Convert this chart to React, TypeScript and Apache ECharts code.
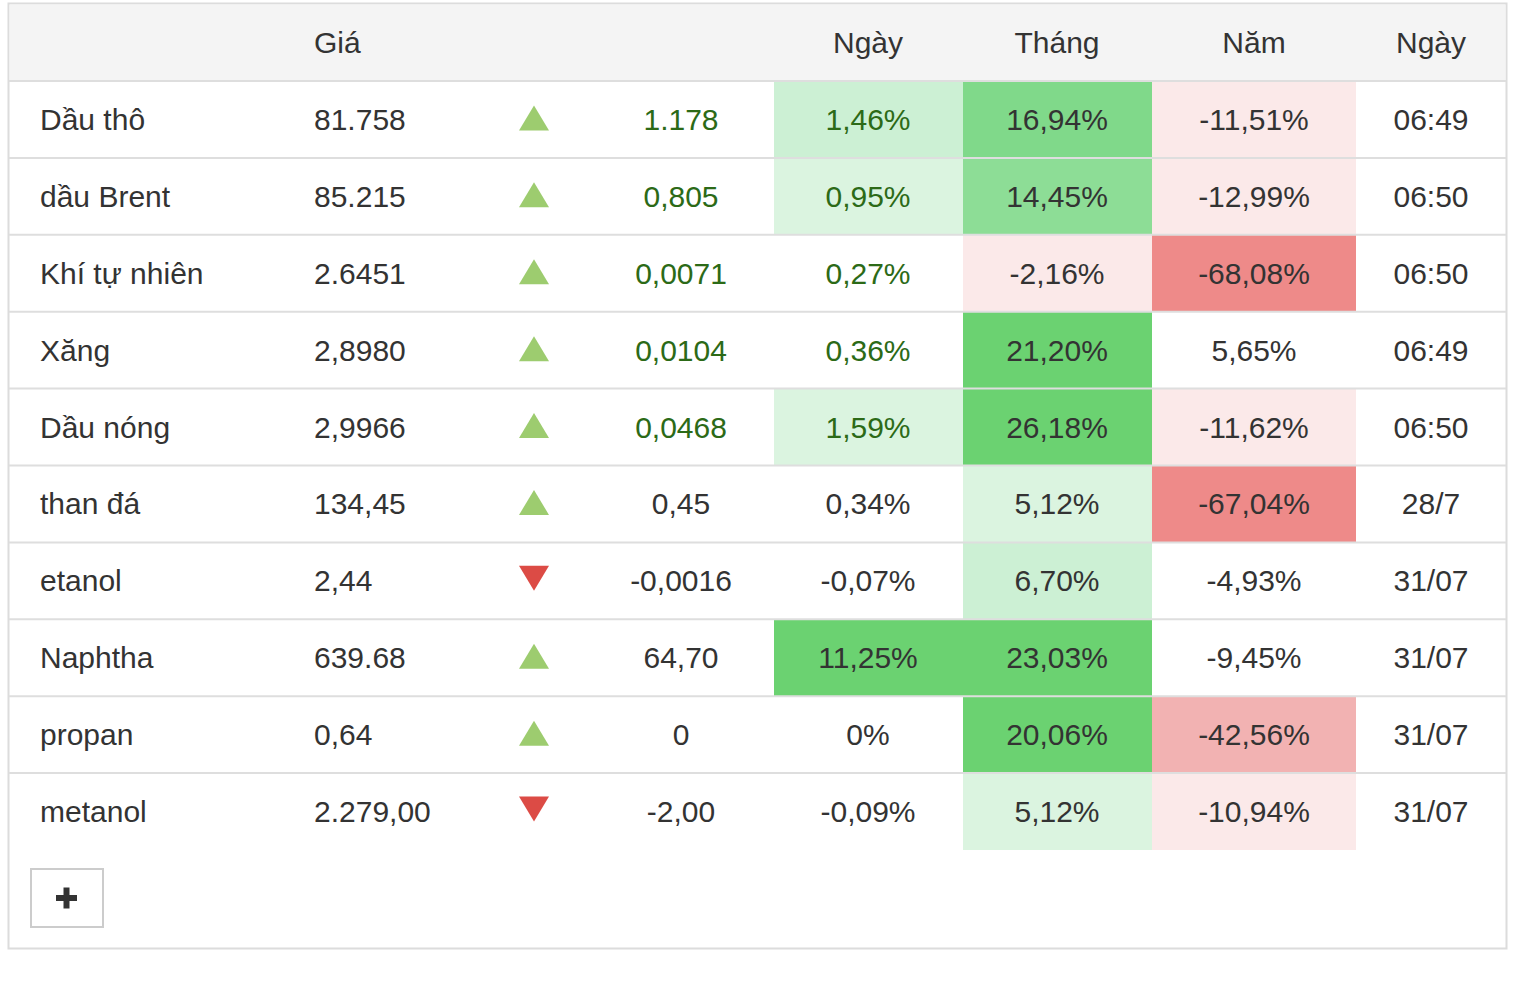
import React, { useEffect, useRef } from "react";
import * as echarts from "echarts";

// ---------- data ----------
const names = ["Dầu thô", "dầu Brent", "Khí tự nhiên", "Xăng", "Dầu nóng", "than đá", "etanol", "Naphtha", "propan", "metanol"];
const prices = ["81.758", "85.215", "2.6451", "2,8980", "2,9966", "134,45", "2,44", "639.68", "0,64", "2.279,00"];
const changes = ["1.178", "0,805", "0,0071", "0,0104", "0,0468", "0,45", "-0,0016", "64,70", "0", "-2,00"];
const dayPct = ["1,46%", "0,95%", "0,27%", "0,36%", "1,59%", "0,34%", "-0,07%", "11,25%", "0%", "-0,09%"];
const monthPct = ["16,94%", "14,45%", "-2,16%", "21,20%", "26,18%", "5,12%", "6,70%", "23,03%", "20,06%", "5,12%"];
const yearPct = ["-11,51%", "-12,99%", "-68,08%", "5,65%", "-11,62%", "-67,04%", "-4,93%", "-9,45%", "-42,56%", "-10,94%"];
const times = ["06:49", "06:50", "06:50", "06:49", "06:50", "28/7", "31/07", "31/07", "31/07", "31/07"];
const liveQuote = [true, true, true, true, true, false, false, false, false, false];
// heat levels of the percentage cells (positive = green, negative = red)
const dayLevel = [2, 1, 0, 0, 1, 0, 0, 5, 0, 0];
const monthLevel = [4, 3, -1, 5, 5, 1, 2, 5, 5, 1];
const yearLevel = [-1, -1, -3, 0, -1, -3, 0, 0, -2, -1];
const headers = ["", "Giá", "", "", "Ngày", "Tháng", "Năm", "Ngày"];

// ---------- layout & style ----------
const FONT = '"Liberation Sans", Arial, Helvetica, sans-serif';
const FS = 30;
const TEXT = "#333333";
const GREEN_TEXT = "#2c6a17";
const UP = "#9dcc6f";
const DOWN = "#dc4b45";
const LINE = "#dedede";
const HEAT: Record<string, string> = {
  "1": "#dbf4e0",
  "2": "#ccf0d4",
  "3": "#8ddd96",
  "4": "#80d98a",
  "5": "#6bd271",
  "-1": "#fbe9e9",
  "-2": "#f2b2b2",
  "-3": "#ee8a89",
};
const COLS = [
  { x0: 9, x1: 290, align: "left", tx: 40 },
  { x0: 290, x1: 500, align: "left", tx: 314 },
  { x0: 500, x1: 580, align: "center", tx: 534 },
  { x0: 580, x1: 774, align: "center", tx: 681 },
  { x0: 774, x1: 963, align: "center", tx: 868 },
  { x0: 963, x1: 1152, align: "center", tx: 1057 },
  { x0: 1152, x1: 1356, align: "center", tx: 1254 },
  { x0: 1356, x1: 1506, align: "center", tx: 1431 },
];
const X_MIN = 8;
const X_MAX = 1507;
const BODY_TOP = 81;
const BODY_BOTTOM = 850;

function cellText(c: number, r: number): string {
  switch (c) {
    case 0: return names[r];
    case 1: return prices[r];
    case 3: return changes[r];
    case 4: return dayPct[r];
    case 5: return monthPct[r];
    case 6: return yearPct[r];
    case 7: return times[r];
    default: return "";
  }
}
function cellLevel(c: number, r: number): number {
  if (c === 4) return dayLevel[r];
  if (c === 5) return monthLevel[r];
  if (c === 6) return yearLevel[r];
  return 0;
}

export default function App() {
  const ref = useRef<HTMLDivElement>(null);
  useEffect(() => {
    if (!ref.current) return;
    const chart = echarts.init(ref.current, undefined, { renderer: "svg" });

    const cells: number[][] = [];
    for (let r = 0; r < names.length; r++) for (let c = 0; c < COLS.length; c++) cells.push([c, r]);
    const rows = names.map((_, r) => [0, r]);

    const option: any = {
      animation: false,
      backgroundColor: "#ffffff",
      grid: { left: X_MIN, right: 1536 - X_MAX, top: BODY_TOP, bottom: 984 - BODY_BOTTOM },
      xAxis: { type: "value", min: X_MIN, max: X_MAX, show: false },
      yAxis: { type: "category", data: names, inverse: true, show: false },
      graphic: [
        {
          type: "rect",
          shape: { x: 8.5, y: 3.5, width: 1498, height: 945 },
          style: { fill: "#ffffff", stroke: "#dcdcdc", lineWidth: 2 },
          z: -10,
        },
        {
          type: "rect",
          shape: { x: 9.5, y: 4.5, width: 1496, height: 76 },
          style: { fill: "#f4f4f4" },
          z: -5,
        },
        ...headers
          .map((h, c) =>
            h
              ? {
                  type: "text",
                  x: COLS[c].tx,
                  y: 42,
                  style: {
                    text: h,
                    fill: TEXT,
                    fontSize: FS,
                    fontFamily: FONT,
                    align: COLS[c].align,
                    verticalAlign: "middle",
                  },
                }
              : null
          )
          .filter(Boolean),
        {
          type: "rect",
          shape: { x: 31, y: 869, width: 72, height: 58 },
          style: { fill: "#ffffff", stroke: "#cccccc", lineWidth: 2 },
        },
        { type: "rect", shape: { x: 56, y: 895, width: 21, height: 6 }, style: { fill: "#333333" } },
        { type: "rect", shape: { x: 63.5, y: 887.5, width: 6, height: 21 }, style: { fill: "#333333" } },
      ],
      series: [
        {
          type: "custom",
          data: cells,
          z: 2,
          renderItem: (params: any, api: any) => {
            const c = api.value(0);
            const r = api.value(1);
            const col = COLS[c];
            const center = api.coord([col.tx, r]);
            const h = api.size([0, 1])[1];
            const x0 = api.coord([col.x0, r])[0];
            const x1 = api.coord([col.x1, r])[0];
            const yC = center[1];
            const children: any[] = [];
            const lvl = cellLevel(c, r);
            if (lvl !== 0) {
              children.push({
                type: "rect",
                shape: { x: x0, y: yC - h / 2, width: x1 - x0, height: h },
                style: { fill: HEAT[String(lvl)] },
              });
            }
            if (c === 2) {
              const down = changes[r].startsWith("-");
              const hw = 15;
              const th = 25;
              const pts = down
                ? [[center[0] - hw, yC - 15], [center[0] + hw, yC - 15], [center[0], yC - 15 + th]]
                : [[center[0] - hw, yC + 11], [center[0] + hw, yC + 11], [center[0], yC + 11 - th]];
              children.push({ type: "polygon", shape: { points: pts }, style: { fill: down ? DOWN : UP } });
            } else {
              const green = (c === 3 || c === 4) && liveQuote[r];
              children.push({
                type: "text",
                x: center[0],
                y: yC,
                style: {
                  text: cellText(c, r),
                  fill: green ? GREEN_TEXT : TEXT,
                  fontSize: FS,
                  fontFamily: FONT,
                  align: col.align,
                  verticalAlign: "middle",
                },
              });
            }
            return { type: "group", children };
          },
        },
        {
          type: "custom",
          data: rows,
          z: 5,
          renderItem: (params: any, api: any) => {
            const r = api.value(1);
            const h = api.size([0, 1])[1];
            const yC = api.coord([X_MIN, r])[1];
            const y = yC - h / 2;
            return {
              type: "line",
              shape: { x1: api.coord([9, r])[0], y1: y, x2: api.coord([1506, r])[0], y2: y },
              style: { stroke: LINE, lineWidth: 2 },
            };
          },
        },
      ],
    };
    chart.setOption(option);
    return () => chart.dispose();
  }, []);
  return <div ref={ref} style={{ position: "absolute", left: 0, top: 0, width: 1536, height: 984 }} />;
}
